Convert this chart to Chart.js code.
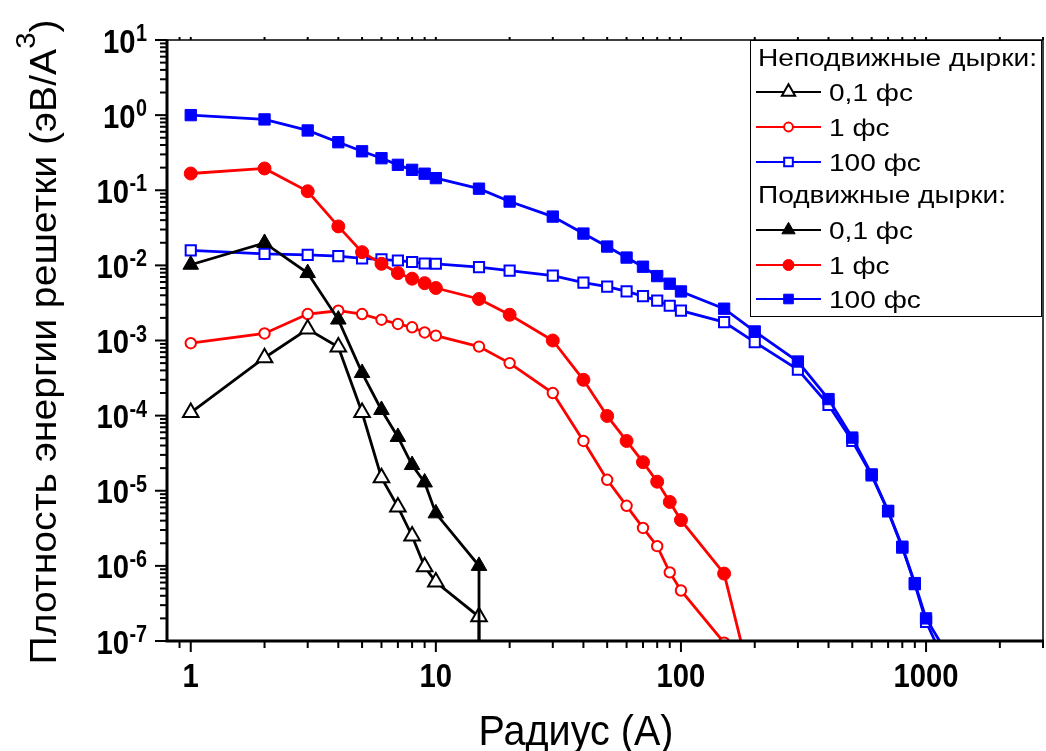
<!DOCTYPE html>
<html>
<head>
<meta charset="utf-8">
<script src="https://cdn.jsdelivr.net/npm/chart.js@4.4.1/dist/chart.umd.min.js"></script>
<style>
  html, body { margin: 0; padding: 0; background: #fff; overflow: hidden; }
  #chart { display: block; }
</style>
</head>
<body>
<canvas id="chart" width="1046" height="751"></canvas>
<script>
// Radius values (A) for each family of curves
const radiusTri = [1, 2, 3, 4, 5, 6, 7, 8, 9, 10, 15, 15];
const radiusRed = [1, 2, 3, 4, 5, 6, 7, 8, 9, 10, 15, 20, 30, 40, 50, 60, 70, 80, 90, 100, 150];
const radiusRedMob = [1, 2, 3, 4, 5, 6, 7, 8, 9, 10, 15, 20, 30, 40, 50, 60, 70, 80, 90, 100, 150, 200];
const radiusBlue = [1, 2, 3, 4, 5, 6, 7, 8, 9, 10, 15, 20, 30, 40, 50, 60, 70, 80, 90, 100,
                    150, 200, 300, 400, 500, 600, 700, 800, 900, 1000, 1200];

// Fixed holes (open markers)
const fixed01 = [1.1e-4, 5.9e-4, 1.42e-3, 8.2e-4, 1.1e-4, 1.49e-5, 6.1e-6, 2.5e-6, 9.7e-7, 6.1e-7, 2.1e-7, 1e-9];
const fixed1 = [9.2e-4, 1.24e-3, 2.25e-3, 2.49e-3, 2.25e-3, 1.89e-3, 1.66e-3, 1.5e-3, 1.28e-3, 1.16e-3,
                8.3e-4, 5.0e-4, 2.0e-4, 4.6e-5, 1.4e-5, 6.3e-6, 3.2e-6, 1.83e-6, 8.2e-7, 4.7e-7, 9.5e-8];
const fixed100 = [0.0158, 0.0142, 0.0138, 0.0133, 0.0124, 0.012, 0.0116, 0.0111, 0.0106, 0.0105,
                  0.0095, 0.0085, 0.0073, 0.0059, 0.0052, 0.0045, 0.0039, 0.0034, 0.0029, 0.0025,
                  0.00176, 0.00095, 4.1e-4, 1.39e-4, 4.6e-5, 1.6e-5, 5.3e-6, 1.75e-6, 5.7e-7, 1.8e-7, 5e-8];

// Mobile holes (filled markers)
const mobile01 = [0.0102, 0.0199, 0.0079, 0.0019, 3.7e-4, 1.19e-4, 5.2e-5, 2.2e-5, 1.29e-5, 5.0e-6, 1.0e-6, 1e-9];
const mobile1 = [0.167, 0.195, 0.097, 0.033, 0.015, 0.0105, 0.0079, 0.00665, 0.0058, 0.005,
                 0.00357, 0.0022, 0.001, 3.0e-4, 9.9e-5, 4.6e-5, 2.4e-5, 1.32e-5, 7.1e-6, 4.07e-6, 7.9e-7, 1.8e-8];
const mobile100 = [1.0, 0.877, 0.625, 0.436, 0.33, 0.267, 0.218, 0.187, 0.166, 0.145,
                   0.105, 0.0707, 0.0446, 0.0265, 0.0178, 0.0127, 0.0096, 0.0072, 0.0057, 0.0045,
                   0.00265, 0.00132, 5.25e-4, 1.66e-4, 5.1e-5, 1.65e-5, 5.4e-6, 1.8e-6, 5.9e-7, 2.0e-7, 7.4e-8];

// Axis ticks and labels
const xTickValues = [1, 10, 100, 1000];
const xTickLabels = ['1', '10', '100', '1000'];
const yTickExponents = [1, 0, -1, -2, -3, -4, -5, -6, -7];

const legendFixedTitle = 'Неподвижные дырки:';
const legendMobileTitle = 'Подвижные дырки:';
const seriesLabels = ['0,1 фс', '1 фс', '100 фс'];

const FONT = '"Liberation Sans", Arial, sans-serif';
const BLUE = '#0000ff';
const RED = '#ff0000';
const BLACK = '#000000';

function pts(xs, ys) {
    return xs.map((x, i) => ({ x: x, y: ys[i] }));
}

function series(label, xs, ys, color, style, radius, filled, order) {
    return {
        label: label,
        data: pts(xs, ys),
        borderColor: color,
        borderWidth: 2.8,
        pointStyle: style,
        pointRadius: radius,
        pointBackgroundColor: filled ? color : '#ffffff',
        pointBorderColor: color,
        pointBorderWidth: filled ? 1 : 2,
        tension: 0,
        order: order
    };
}

const datasets = [
    series('fixed 0.1', radiusTri, fixed01, BLACK, 'triangle', 9, false, 1),
    series('fixed 1', radiusRed, fixed1, RED, 'circle', 5.2, false, 1),
    series('fixed 100', radiusBlue, fixed100, BLUE, 'rect', 7.2, false, 1),
    series('mobile 0.1', radiusTri, mobile01, BLACK, 'triangle', 9, true, 0),
    series('mobile 1', radiusRedMob, mobile1, RED, 'circle', 6.5, true, 0),
    series('mobile 100', radiusBlue, mobile100, BLUE, 'rect', 8, true, 0)
];

// draw text squeezed horizontally by sx
function drawText(ctx, text, x, y, font, sx, align) {
    ctx.save();
    ctx.font = font;
    const w = ctx.measureText(text).width * sx;
    let x0 = x;
    if (align === 'center') x0 = x - w / 2;
    else if (align === 'right') x0 = x - w;
    ctx.translate(x0, y);
    ctx.scale(sx, 1);
    ctx.textAlign = 'left';
    ctx.textBaseline = 'alphabetic';
    ctx.fillStyle = '#000';
    ctx.fillText(text, 0, 0);
    ctx.restore();
    return w;
}

function textWidth(ctx, text, font) {
    ctx.save();
    ctx.font = font;
    const w = ctx.measureText(text).width;
    ctx.restore();
    return w;
}

function line(ctx, x1, y1, x2, y2) {
    ctx.beginPath();
    ctx.moveTo(x1, y1);
    ctx.lineTo(x2, y2);
    ctx.stroke();
}

const decorPlugin = {
    id: 'decor',
    afterDatasetsDraw(chart) {
        const ctx = chart.ctx;
        const xs = chart.scales.x;
        const ys = chart.scales.y;
        const a = chart.chartArea;
        ctx.save();
        ctx.strokeStyle = '#000';
        ctx.lineCap = 'butt';

        // thin top and right border
        ctx.lineWidth = 1.5;
        ctx.beginPath();
        ctx.moveTo(a.left, a.top);
        ctx.lineTo(a.right, a.top);
        ctx.lineTo(a.right, a.bottom);
        ctx.stroke();

        // x ticks (bottom outward, tiny ones on top)
        ctx.lineWidth = 2;
        for (let d = -1; d <= 3; d++) {
            for (let k = 1; k <= 9; k++) {
                const v = k * Math.pow(10, d);
                if (v <= 0.8 || v > 3000) continue;
                const px = xs.getPixelForValue(v);
                line(ctx, px, a.bottom, px, a.bottom + (k === 1 ? 11 : 7));
                line(ctx, px, a.top, px, a.top - 3);
            }
        }
        // y ticks (left outward)
        for (let d = -7; d <= 1; d++) {
            for (let k = 1; k <= 9; k++) {
                const v = k * Math.pow(10, d);
                if (v > 10.0001) continue;
                const py = ys.getPixelForValue(v);
                line(ctx, a.left - (k === 1 ? 12 : 7), py, a.left, py);
            }
        }

        // thick left and bottom axes
        ctx.lineWidth = 3;
        ctx.beginPath();
        ctx.moveTo(a.left, a.top - 0.5);
        ctx.lineTo(a.left, a.bottom);
        ctx.lineTo(a.right + 1, a.bottom);
        ctx.stroke();

        // x tick labels
        const tickFont = 'bold 34px ' + FONT;
        xTickValues.forEach((v, i) => {
            drawText(ctx, xTickLabels[i], xs.getPixelForValue(v), 687, tickFont, 0.86, 'center');
        });

        // y tick labels 10^n
        const supFont = 'bold 23px ' + FONT;
        yTickExponents.forEach(e => {
            const py = ys.getPixelForValue(Math.pow(10, e));
            const ws = drawText(ctx, String(e), 147, py + 1, supFont, 0.86, 'right');
            drawText(ctx, '10', 147 - ws - 0.5, py + 12.5, tickFont, 0.86, 'right');
        });

        // x title
        const xtFont = '42px ' + FONT;
        const xt = 'Радиус (А)';
        const xsx = 195 / textWidth(ctx, xt, xtFont);
        drawText(ctx, xt, 576, 745, xtFont, xsx, 'center');

        // y title, rotated, with superscript 3
        const ytFont = '36px ' + FONT;
        const ytSupFont = '27px ' + FONT;
        const ytMain = 'Плотность энергии решетки (эВ/А';
        const wMain = textWidth(ctx, ytMain, ytFont);
        const wSup = textWidth(ctx, '3', ytSupFont);
        const wClose = textWidth(ctx, ')', ytFont);
        const ysx = 645 / (wMain + wSup + wClose);
        ctx.save();
        ctx.translate(56, 342);
        ctx.rotate(-Math.PI / 2);
        let cx = -645 / 2;
        cx += drawText(ctx, ytMain, cx, 0, ytFont, ysx, 'left');
        cx += drawText(ctx, '3', cx, -21, ytSupFont, ysx, 'left');
        drawText(ctx, ')', cx, 0, ytFont, ysx, 'left');
        ctx.restore();

        // legend
        ctx.fillStyle = '#fff';
        ctx.fillRect(750, 40, 292, 276);
        ctx.lineWidth = 1;
        ctx.strokeStyle = '#000';
        ctx.strokeRect(750.5, 40.5, 291, 276);

        const legFont = '24px ' + FONT;
        const lsx = 279 / textWidth(ctx, legendFixedTitle, legFont);
        drawText(ctx, legendFixedTitle, 758, 66, legFont, lsx, 'left');
        drawText(ctx, legendMobileTitle, 758, 203, legFont, lsx, 'left');
        const rows = [92, 127, 162, 230, 265, 299];
        chart.data.datasets.forEach((ds, i) => {
            const y = rows[i];
            ctx.strokeStyle = ds.borderColor;
            ctx.lineWidth = 2;
            line(ctx, 756, y, 821, y);
            ctx.fillStyle = ds.pointBackgroundColor;
            ctx.strokeStyle = ds.pointBorderColor;
            ctx.lineWidth = ds.pointBorderWidth;
            Chart.helpers.drawPoint(ctx, {
                pointStyle: ds.pointStyle,
                radius: ds.pointRadius * 0.85,
                rotation: 0,
                borderWidth: ds.pointBorderWidth
            }, 788.5, y);
            drawText(ctx, seriesLabels[i % 3], 829, y + 8.5, legFont, lsx, 'left');
        });
        ctx.restore();
    }
};

new Chart(document.getElementById('chart').getContext('2d'), {
    type: 'line',
    data: { datasets: datasets },
    options: {
        animation: false,
        responsive: false,
        devicePixelRatio: 1,
        layout: { autoPadding: false, padding: { left: 167, right: 3, top: 40, bottom: 110 } },
        scales: {
            x: { type: 'logarithmic', min: 0.8, max: 3000, display: false },
            y: { type: 'logarithmic', min: 1e-7, max: 10, display: false }
        },
        plugins: {
            legend: { display: false },
            tooltip: { enabled: false }
        }
    },
    plugins: [decorPlugin]
});
</script>
</body>
</html>
